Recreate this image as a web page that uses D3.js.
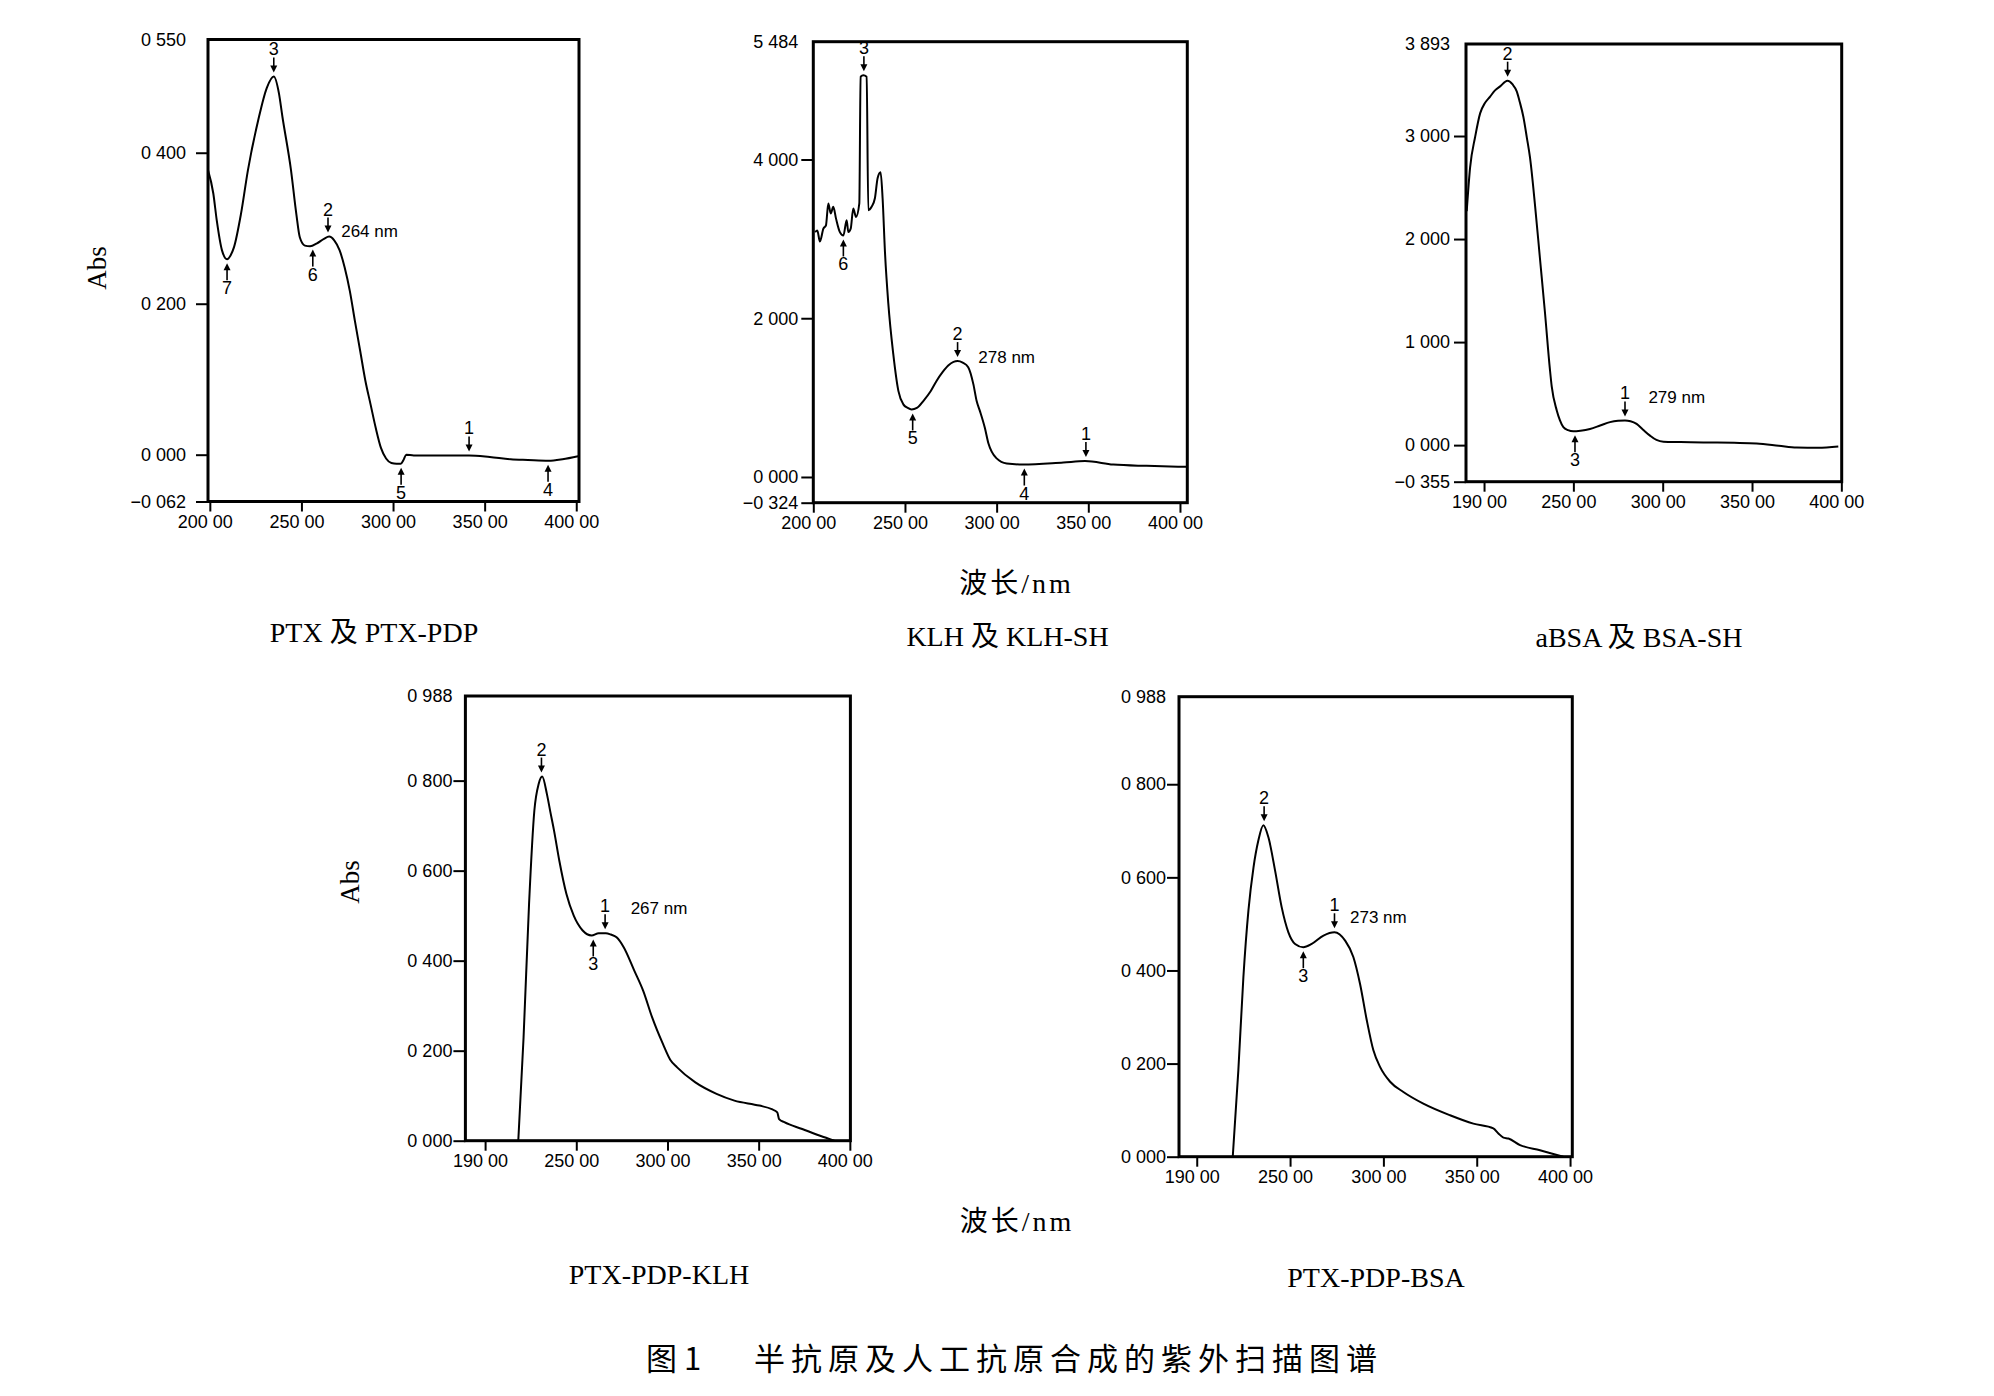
<!DOCTYPE html>
<html><head><meta charset="utf-8">
<script src="https://cdn.jsdelivr.net/npm/d3@7"></script>
<style>body{margin:0;background:#fff} svg{display:block}</style>
</head><body>
<svg id="chart" width="1994" height="1396"></svg>
<script>
// ---------------- DATA ----------------
// Panel 1: PTX 及 PTX-PDP
const ptxWl  = [199,201.9,203.8,206.6,209.4,211.3,213.2,217,220.8,226.4,231.1,234.9,237.7,239.6,244.3,247.2,249.1,251.9,254.7,258.5,262.3,265.1,267.9,270.8,273.6,276.4,279.2,282.1,284.9,287.7,290.6,293.4,296.2,299.1,301.9,304.2,305.7,307.2,311.3,330.2,341.5,352.8,364.2,373.6,384.9,392.5,401];
const ptxAbs = [0.377,0.346,0.310,0.271,0.259,0.264,0.275,0.319,0.377,0.443,0.486,0.501,0.479,0.448,0.377,0.319,0.288,0.277,0.276,0.280,0.286,0.289,0.284,0.271,0.248,0.217,0.177,0.137,0.098,0.067,0.035,0.009,-0.005,-0.011,-0.012,-0.012,-0.007,0.000,-0.001,-0.001,-0.001,-0.003,-0.006,-0.007,-0.008,-0.006,-0.002];
const ptxYTicks  = [-0.062, 0, 0.2, 0.4, 0.55];
const ptxYLabels = ["\u22120 062","0 000","0 200","0 400","0 550"];
const ptxXTicks  = [200,250,300,350,400];
const ptxXLabels = ["200 00","250 00","300 00","350 00","400 00"];
const ptxMarks = [
  {wl:234.9, abs:0.501, label:"3", dir:"down"},
  {wl:264.5, abs:0.289, label:"2", dir:"down"},
  {wl:256.2, abs:0.277, label:"6", dir:"up"},
  {wl:209.4, abs:0.259, label:"7", dir:"up"},
  {wl:304.4, abs:-0.012, label:"5", dir:"up"},
  {wl:341.5, abs:-0.001, label:"1", dir:"down"},
  {wl:384.6, abs:-0.008, label:"4", dir:"up"}
];
const ptxPeak = {wl:271.7, abs:0.296, text:"264 nm"};

// Panel 2: KLH 及 KLH-SH
const klhWl  = [201,202.2,203.6,205.5,206.9,208.2,209.5,210.9,212.4,214.5,216.4,218.2,219.1,220.4,221.8,223.3,225.1,225.8,227.3,229.1,230,231.8,233.6,235.1,236.7,237.8,239.1,240.9,243.6,246.4,249.1,251.5,253.6,256.5,260,264,267.3,270.5,273.6,276.5,278.7,281.5,284.5,287.3,289.1,290.9,293.6,295.5,297.3,300,305.5,314.5,336.4,348.2,363.6,381.8,403.6];
const klhAbs = [3.085,3.106,2.966,3.128,3.17,3.447,3.32,3.404,3.255,3.085,3.043,3.234,3.085,3.128,3.383,3.277,3.447,5.043,5.06,5.043,3.362,3.404,3.511,3.766,3.838,3.511,2.83,2.19,1.553,1.085,0.915,0.87,0.851,0.87,0.957,1.08,1.213,1.32,1.404,1.45,1.46,1.44,1.383,1.17,0.957,0.83,0.617,0.426,0.319,0.234,0.17,0.157,0.183,0.2,0.157,0.14,0.128];
const klhYTicks  = [-0.324, 0, 2, 4, 5.484];
const klhYLabels = ["\u22120 324","0 000","2 000","4 000","5 484"];
const klhXTicks  = [200,250,300,350,400];
const klhXLabels = ["200 00","250 00","300 00","350 00","400 00"];
const klhMarks = [
  {wl:227.6, abs:5.06, label:"3", dir:"down"},
  {wl:216.4, abs:3.043, label:"6", dir:"up"},
  {wl:278.7, abs:1.46, label:"2", dir:"down"},
  {wl:254.2, abs:0.851, label:"5", dir:"up"},
  {wl:348.7, abs:0.2, label:"1", dir:"down"},
  {wl:315.1, abs:0.157, label:"4", dir:"up"}
];
const klhPeak = {wl:290, abs:1.51, text:"278 nm"};

// Panel 3: aBSA 及 BSA-SH
const bsaWl  = [190.3,192.2,195,197.8,200.5,203.4,206,209,213.1,216,218.3,220,222,224,225.7,228.5,231.3,234.1,236.9,237.9,240.7,242.5,244.4,247,250,254,259.3,265,270.5,275,278.9,282,285.4,289,292.9,296.5,300.4,310,322.8,340,352.6,365,375,387,398.3];
const bsaAbs = [2.27,2.696,2.99,3.22,3.32,3.383,3.44,3.482,3.537,3.5,3.433,3.33,3.187,2.98,2.794,2.335,1.811,1.287,0.73,0.567,0.337,0.24,0.174,0.145,0.134,0.14,0.157,0.19,0.223,0.236,0.239,0.232,0.206,0.15,0.092,0.05,0.033,0.03,0.026,0.022,0.016,-0.005,-0.023,-0.025,-0.013];
const bsaYTicks  = [-0.355, 0, 1, 2, 3, 3.893];
const bsaYLabels = ["\u22120 355","0 000","1 000","2 000","3 000","3 893"];
const bsaXTicks  = [200,250,300,350,400];
const bsaXLabels = ["190 00","250 00","300 00","350 00","400 00"];
const bsaMarks = [
  {wl:213.2, abs:3.537, label:"2", dir:"down"},
  {wl:250.9, abs:0.134, label:"3", dir:"up"},
  {wl:278.9, abs:0.239, label:"1", dir:"down"}
];
const bsaPeak = {wl:292, abs:0.468, text:"279 nm"};

// Panel 4: PTX-PDP-KLH
const pkWl  = [218.2,221.1,224.1,227,229.4,231.3,233.9,235.8,237.8,240.7,244.6,248.6,253.5,258.4,262.3,266.2,269,272.1,276,281.8,286.7,291.6,297.5,301.5,305.3,315.1,326.9,336.7,350.4,357.2,360.2,361.2,364.1,373.9,383.7,391.5];
const pkAbs = [0,0.23,0.526,0.733,0.793,0.809,0.77,0.73,0.689,0.622,0.548,0.5,0.467,0.456,0.461,0.461,0.458,0.452,0.43,0.378,0.333,0.274,0.215,0.18,0.163,0.13,0.104,0.089,0.078,0.07,0.063,0.048,0.041,0.026,0.011,0];
const pkYTicks  = [0, 0.2, 0.4, 0.6, 0.8, 0.988];
const pkYLabels = ["0 000","0 200","0 400","0 600","0 800","0 988"];
const pkXTicks  = [200,250,300,350,400];
const pkXLabels = ["190 00","250 00","300 00","350 00","400 00"];
const pkMarks = [
  {wl:230.9, abs:0.809, label:"2", dir:"down"},
  {wl:259.3, abs:0.456, label:"3", dir:"up"},
  {wl:265.8, abs:0.461, label:"1", dir:"down"}
];
const pkPeak = {wl:279.8, abs:0.516, text:"267 nm"};

// Panel 5: PTX-PDP-BSA
const pbWl  = [219.3,222.3,225,227.7,230.4,233,235.7,238.4,242,245.5,249.1,252.7,257.1,261.6,267.9,273.8,279.5,283.9,287.5,291.1,294.6,298.2,303.6,310.7,321.4,335.7,348.2,358.9,361.6,364.3,367,373.2,383.9,396.4];
const pbAbs = [0,0.186,0.386,0.529,0.621,0.679,0.712,0.686,0.614,0.536,0.482,0.457,0.45,0.457,0.475,0.482,0.464,0.429,0.371,0.293,0.229,0.193,0.161,0.139,0.114,0.089,0.071,0.061,0.05,0.041,0.039,0.025,0.014,0];
const pbYTicks  = [0, 0.2, 0.4, 0.6, 0.8, 0.988];
const pbYLabels = ["0 000","0 200","0 400","0 600","0 800","0 988"];
const pbXTicks  = [200,250,300,350,400];
const pbXLabels = ["190 00","250 00","300 00","350 00","400 00"];
const pbMarks = [
  {wl:236.1, abs:0.712, label:"2", dir:"down"},
  {wl:257.1, abs:0.45, label:"3", dir:"up"},
  {wl:273.8, abs:0.482, label:"1", dir:"down"}
];
const pbPeak = {wl:282.1, abs:0.514, text:"273 nm"};

const panelTitles = ["PTX 及 PTX-PDP","KLH 及 KLH-SH","aBSA 及 BSA-SH","PTX-PDP-KLH","PTX-PDP-BSA"];
const xAxisTitle = "波长/nm";
const yAxisTitle = "Abs";
const captionLead = "图 1";
const captionText = "半抗原及人工抗原合成的紫外扫描图谱";

// ---------------- LAYOUT ----------------
const panels = [
  {box:[208,39.5,579,501.5], xDomain:[199,401.5], yDomain:[-0.062,0.55], wl:ptxWl, abs:ptxAbs, yT:ptxYTicks, yL:ptxYLabels, xT:ptxXTicks, xL:ptxXLabels, marks:ptxMarks, peak:ptxPeak, gap:22},
  {box:[813.3,41.7,1187.3,502.7], xDomain:[200,404], yDomain:[-0.324,5.484], wl:klhWl, abs:klhAbs, yT:klhYTicks, yL:klhYLabels, xT:klhXTicks, xL:klhXLabels, marks:klhMarks, peak:klhPeak, gap:15},
  {box:[1466,44,1841.7,481.7], xDomain:[189.9,400.2], yDomain:[-0.355,3.893], wl:bsaWl, abs:bsaAbs, yT:bsaYTicks, yL:bsaYLabels, xT:bsaXTicks, xL:bsaXLabels, marks:bsaMarks, peak:bsaPeak, gap:16},
  {box:[465.4,696,850.4,1140.7], xDomain:[189.2,400.3], yDomain:[0,0.988], wl:pkWl, abs:pkAbs, yT:pkYTicks, yL:pkYLabels, xT:pkXTicks, xL:pkXLabels, marks:pkMarks, peak:pkPeak, gap:13},
  {box:[1179,696.7,1572.3,1156.7], xDomain:[190.5,401.2], yDomain:[0,0.988], wl:pbWl, abs:pbAbs, yT:pbYTicks, yL:pbYLabels, xT:pbXTicks, xL:pbXLabels, marks:pbMarks, peak:pbPeak, gap:13}
];

const svg = d3.select("#chart");
svg.append("rect").attr("width",1994).attr("height",1396).attr("fill","#fff");
const SANS = "'Liberation Sans', Arial, sans-serif";
const SERIF = "'Liberation Serif', 'Times New Roman', 'Noto Sans CJK SC', serif";

panels.forEach(p => {
  const [L,T,R,B] = p.box;
  const x = d3.scaleLinear().domain(p.xDomain).range([L,R]);
  const y = d3.scaleLinear().domain(p.yDomain).range([B,T]);
  const g = svg.append("g");

  // curve
  const pts = p.wl.map((w,i)=>[w,p.abs[i]]);
  g.append("path").datum(pts)
    .attr("d", d3.line().x(d=>x(d[0])).y(d=>y(d[1])).curve(d3.curveMonotoneX))
    .attr("fill","none").attr("stroke","#000").attr("stroke-width",2).attr("stroke-linejoin","round");

  // y axis ticks
  const yAxis = d3.axisLeft(y).tickValues(p.yT).tickSize(12).tickFormat((d,i)=>p.yL[i]).tickPadding(p.gap-12);
  const ya = g.append("g").attr("transform",`translate(${L},0)`).call(yAxis);
  ya.select(".domain").remove();
  ya.selectAll(".tick line").attr("stroke","#000").attr("stroke-width",2)
    .filter((d,i)=>i===p.yT.length-1).remove();
  ya.selectAll(".tick text").attr("font-family",SANS).attr("font-size",18).attr("fill","#000");

  // x axis ticks
  const xAxis = d3.axisBottom(x).tickValues(p.xT).tickSize(10).tickFormat((d,i)=>p.xL[i]).tickPadding(4);
  const xa = g.append("g").attr("transform",`translate(0,${B})`).call(xAxis);
  xa.select(".domain").remove();
  xa.selectAll(".tick line").attr("stroke","#000").attr("stroke-width",2);
  xa.selectAll(".tick text").attr("font-family",SANS).attr("font-size",18).attr("fill","#000").attr("dx",-5);

  // frame
  g.append("rect").attr("x",L).attr("y",T).attr("width",R-L).attr("height",B-T)
    .attr("fill","none").attr("stroke","#000").attr("stroke-width",3);

  // arrow markers
  p.marks.forEach(m => {
    const mx = x(m.wl), my = y(m.abs);
    if (m.dir === "down") {
      const tip = my - 4;
      g.append("line").attr("x1",mx).attr("x2",mx).attr("y1",tip-15).attr("y2",tip-5)
        .attr("stroke","#000").attr("stroke-width",1.6);
      g.append("path").attr("d",`M${mx-3.5},${tip-7}L${mx+3.5},${tip-7}L${mx},${tip}Z`).attr("fill","#000");
      g.append("text").attr("x",mx).attr("y",tip-17).attr("text-anchor","middle")
        .attr("font-family",SANS).attr("font-size",18).text(m.label);
    } else {
      const tip = my + 4;
      g.append("line").attr("x1",mx).attr("x2",mx).attr("y1",tip+5).attr("y2",tip+17)
        .attr("stroke","#000").attr("stroke-width",1.6);
      g.append("path").attr("d",`M${mx-3.5},${tip+7}L${mx+3.5},${tip+7}L${mx},${tip}Z`).attr("fill","#000");
      g.append("text").attr("x",mx).attr("y",tip+31).attr("text-anchor","middle")
        .attr("font-family",SANS).attr("font-size",18).text(m.label);
    }
  });
  g.append("text").attr("x",x(p.peak.wl)).attr("y",y(p.peak.abs)).attr("dy","0.35em")
    .attr("font-family",SANS).attr("font-size",17).text(p.peak.text);
});

// Abs labels
[[96.5,268],[349.3,882]].forEach(([cx,cy]) => {
  svg.append("text").attr("transform",`translate(${cx},${cy}) rotate(-90)`)
    .attr("text-anchor","middle").attr("dy","0.35em")
    .attr("font-family",SERIF).attr("font-size",27).text(yAxisTitle);
});

// axis titles (wavelength)
[[1016.5,593],[1017,1231]].forEach(([cx,by]) => {
  svg.append("text").attr("x",cx).attr("y",by).attr("text-anchor","middle")
    .attr("font-family",SERIF).attr("font-size",28).attr("letter-spacing",3).text(xAxisTitle);
});

// panel titles
const titlePos = [[374,642],[1007.5,646],[1639,647],[659,1284],[1376,1287]];
panelTitles.forEach((t,i) => {
  svg.append("text").attr("x",titlePos[i][0]).attr("y",titlePos[i][1]).attr("text-anchor","middle")
    .attr("font-family",SERIF).attr("font-size",28).text(t);
});

// caption
const cap = svg.append("text").attr("y",1370).attr("font-family","'Noto Sans CJK SC', sans-serif").attr("font-size",31);
cap.append("tspan").attr("x",646).text(captionLead);
cap.append("tspan").attr("x",754).attr("letter-spacing",6).text(captionText);
</script>
</body></html>
